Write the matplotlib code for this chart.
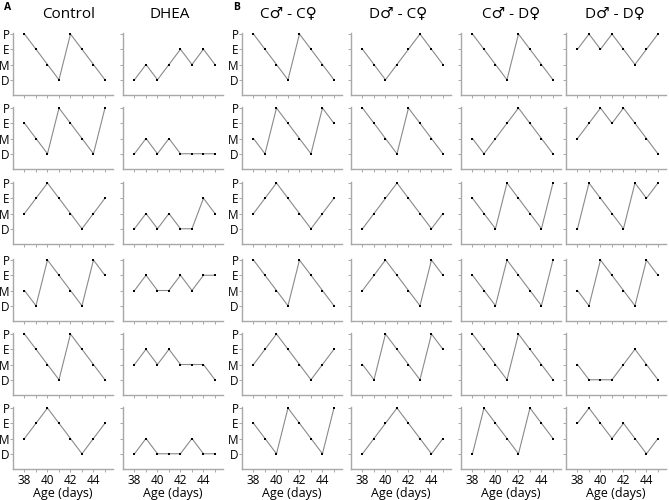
import matplotlib
matplotlib.use('Agg')
import matplotlib.pyplot as plt

plt.rcParams['font.family'] = ['Open Sans', 'DejaVu Sans']

# estrous stage per day, D=1, M=2, E=3, P=4
days = [38, 39, 40, 41, 42, 43, 44, 45]
stage_labels = ['D', 'M', 'E', 'P']
titles = ['Control', 'DHEA', 'C\u2642 - C\u2640', 'D\u2642 - C\u2640', 'C\u2642 - D\u2640', 'D\u2642 - D\u2640']

control = [
    [4, 3, 2, 1, 4, 3, 2, 1],
    [3, 2, 1, 4, 3, 2, 1, 4],
    [2, 3, 4, 3, 2, 1, 2, 3],
    [2, 1, 4, 3, 2, 1, 4, 3],
    [4, 3, 2, 1, 4, 3, 2, 1],
    [2, 3, 4, 3, 2, 1, 2, 3],
]
dhea = [
    [1, 2, 1, 2, 3, 2, 3, 2],
    [1, 2, 1, 2, 1, 1, 1, 1],
    [1, 2, 1, 2, 1, 1, 3, 2],
    [2, 3, 2, 2, 3, 2, 3, 3],
    [2, 3, 2, 3, 2, 2, 2, 1],
    [1, 2, 1, 1, 1, 2, 1, 1],
]
cm_cf = [
    [4, 3, 2, 1, 4, 3, 2, 1],
    [2, 1, 4, 3, 2, 1, 4, 3],
    [2, 3, 4, 3, 2, 1, 2, 3],
    [4, 3, 2, 1, 4, 3, 2, 1],
    [2, 3, 4, 3, 2, 1, 2, 3],
    [3, 2, 1, 4, 3, 2, 1, 4],
]
dm_cf = [
    [3, 2, 1, 2, 3, 4, 3, 2],
    [4, 3, 2, 1, 4, 3, 2, 1],
    [1, 2, 3, 4, 3, 2, 1, 2],
    [2, 3, 4, 3, 2, 1, 4, 3],
    [2, 1, 4, 3, 2, 1, 4, 3],
    [1, 2, 3, 4, 3, 2, 1, 2],
]
cm_df = [
    [4, 3, 2, 1, 4, 3, 2, 1],
    [2, 1, 2, 3, 4, 3, 2, 1],
    [3, 2, 1, 4, 3, 2, 1, 4],
    [3, 2, 1, 4, 3, 2, 1, 4],
    [4, 3, 2, 1, 4, 3, 2, 1],
    [1, 4, 3, 2, 1, 4, 3, 2],
]
dm_df = [
    [3, 4, 3, 4, 3, 2, 3, 4],
    [2, 3, 4, 3, 4, 3, 2, 1],
    [1, 4, 3, 2, 1, 4, 3, 4],
    [2, 1, 4, 3, 2, 1, 4, 3],
    [2, 1, 1, 1, 2, 3, 2, 1],
    [3, 4, 3, 2, 3, 2, 1, 2],
]
groups = [control, dhea, cm_cf, dm_cf, cm_df, dm_df]

W, H = 669, 500
fig = plt.figure(figsize=(W / 100, H / 100), dpi=100)

col_left = [13, 123, 242, 351, 461, 566]
row_bottom = [95, 169, 244, 321, 395, 469]
ax_w = 100
ax_h = 62.5
spine_col = '#a8a8a8'

for c, grp in enumerate(groups):
    for r, vals in enumerate(grp):
        ax = fig.add_axes([col_left[c] / W, (H - row_bottom[r]) / H, ax_w / W, ax_h / H])
        ax.plot(days, vals, color='#8a8a8a', lw=0.8, marker='s', ms=1.6,
                mfc='black', mec='black', mew=0)
        ax.set_xlim(37, 45.7)
        ax.set_ylim(0, 4.1)
        for s in ['top', 'right']:
            ax.spines[s].set_visible(False)
        for s in ['left', 'bottom']:
            ax.spines[s].set_color(spine_col)
            ax.spines[s].set_linewidth(1.0)
        ax.set_xticks(days)
        ax.set_yticks([1, 2, 3, 4])
        ax.tick_params(length=2, width=0.7, color=spine_col, labelsize=8.5, pad=1.5)
        ax.tick_params(axis='y', pad=0.5)
        if c in (0, 2):
            ax.set_yticklabels(stage_labels, fontsize=8.5)
        else:
            ax.set_yticklabels([])
        if r == 5:
            ax.set_xticklabels([str(d) if d % 2 == 0 else '' for d in days], fontsize=8.5)
            ax.set_xlabel('Age (days)', fontsize=9, labelpad=0)
        else:
            ax.set_xticklabels([])

title_x = [69, 170, 288, 398, 511, 615]
for t, x in zip(titles, title_x):
    fig.text(x / W, 1 - 14 / H, t, ha='center', va='center', fontsize=11)

fig.text(4 / W, 1 - 7 / H, 'A', fontsize=7.5, fontweight='bold', ha='left', va='center')
fig.text(233 / W, 1 - 7 / H, 'B', fontsize=7.5, fontweight='bold', ha='left', va='center')

fig.savefig('out.png', dpi=100)
